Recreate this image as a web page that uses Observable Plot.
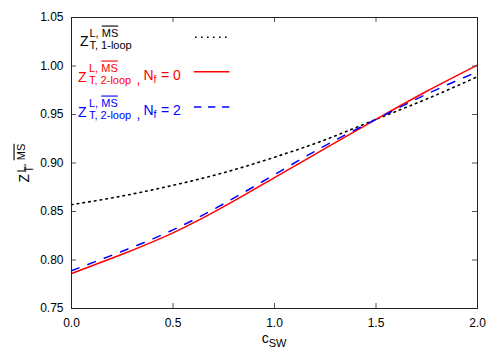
<!DOCTYPE html>
<html><head><meta charset="utf-8">
<script src="https://cdn.jsdelivr.net/npm/d3@7"></script>
<script src="https://cdn.jsdelivr.net/npm/@observablehq/plot@0.6"></script>
<style>
body{margin:0;background:#fff}
svg{font-family:"Liberation Sans",Arial,Helvetica,sans-serif}
</style>
</head><body><div id="chart"></div>
<script>
const cSW = [0, 0.25, 0.5, 0.75, 1.0, 1.25, 1.5, 1.75, 2.0];
const oneLoop    = [0.857, 0.866, 0.877, 0.890, 0.906, 0.924, 0.945, 0.966, 0.989];
const twoLoopNf0 = [0.786, 0.806, 0.828, 0.855, 0.885, 0.915, 0.945, 0.974, 1.001];
const twoLoopNf2 = [0.789, 0.809, 0.831, 0.858, 0.888, 0.918, 0.945, 0.971, 0.994];
const xTicks = [0, 0.5, 1.0, 1.5, 2.0];
const yTicks = [0.75, 0.80, 0.85, 0.90, 0.95, 1.00, 1.05];

const font = '"Liberation Sans",Arial,Helvetica,sans-serif';
const rows = (ys) => cSW.map((c, i) => ({c, z: ys[i]}));

function annotations(index, scales, values, dims) {
  const g = d3.create("svg:g").attr("font-family", font).attr("text-anchor", "start");
  const txt = (x, y, s, size, color) => g.append("text").attr("x", x).attr("y", y)
      .attr("font-size", size).attr("fill", color).text(s);
  const sup = (x, y, color) => {
    const t = g.append("text").attr("x", x).attr("y", y).attr("font-size", 11).attr("fill", color);
    t.append("tspan").text("L, ");
    t.append("tspan").attr("style", "text-decoration: overline").text("MS");
  };
  // entry 1
  txt(80, 45.5, "Z", 14, "black");
  sup(89.5, 36.5, "black");
  txt(89.5, 49, "T, 1-loop", 11, "black");
  // entries 2 and 3
  [[82, "red", "0"], [117, "blue", "2"]].forEach(([y, col, nf]) => {
    txt(78, y, "Z", 14, col);
    sup(89, y - 10.5, col);
    txt(89, y + 2, "T, 2-loop", 11, col);
    txt(136.5, y + 1.5, ",", 14, col);
    txt(143.5, y - 2.5, "N", 14, col);
    txt(153.5, y + 0.5, "f", 10.5, col);
    txt(161, y - 2.5, "= " + nf, 14, col);
  });
  // legend samples
  g.append("line").attr("x1", 195).attr("x2", 229).attr("y1", 37.3).attr("y2", 37.3)
    .attr("stroke", "black").attr("stroke-width", 1.6).attr("stroke-dasharray", "1.6 4.4");
  g.append("line").attr("x1", 194).attr("x2", 229.5).attr("y1", 71.7).attr("y2", 71.7)
    .attr("stroke", "red").attr("stroke-width", 1.5);
  g.append("line").attr("x1", 194).attr("x2", 229.5).attr("y1", 107).attr("y2", 107)
    .attr("stroke", "blue").attr("stroke-width", 1.5).attr("stroke-dasharray", "7.3 6.7");
  // y axis label (rotated)
  g.append("text").attr("transform", "translate(29,182.5) rotate(-90)").attr("fill", "black")
    .attr("font-size", 14).text("Z");
  const ylsup = g.append("text").attr("transform", "translate(24.5,172.5) rotate(-90)").attr("fill", "black").attr("font-size", 11);
  ylsup.append("tspan").text("L, ");
  ylsup.append("tspan").attr("style", "text-decoration: overline").text("MS");
  g.append("text").attr("transform", "translate(32.5,172.5) rotate(-90)").attr("fill", "black").attr("font-size", 11).text("T");
  // x axis label
  const xl = g.append("text").attr("x", 274).attr("y", 343).attr("text-anchor", "middle").attr("fill", "black");
  xl.append("tspan").attr("font-size", 14).text("c");
  xl.append("tspan").attr("font-size", 11).attr("dy", 4).text("SW");
  return g.node();
}

const plot = Plot.plot({
  width: 500, height: 350,
  marginLeft: 71, marginRight: 23, marginTop: 17, marginBottom: 42,
  style: {fontFamily: font, fontSize: "12px", color: "black", background: "white"},
  x: {domain: [0, 2]},
  y: {domain: [0.75, 1.05]},
  marks: [
    Plot.line(rows(oneLoop), {x: "c", y: "z", curve: "natural", stroke: "black", strokeWidth: 1.6, strokeDasharray: "1.6 4.2"}),
    Plot.line(rows(twoLoopNf0), {x: "c", y: "z", curve: "natural", stroke: "red", strokeWidth: 1.5}),
    Plot.line(rows(twoLoopNf2), {x: "c", y: "z", curve: "natural", stroke: "blue", strokeWidth: 1.5, strokeDasharray: "8 9.5"}),
    Plot.tickX(xTicks, {x: d => d, insetTop: 286, stroke: "#555"}),
    Plot.tickX(xTicks, {x: d => d, insetBottom: 286, stroke: "#555"}),
    Plot.tickY(yTicks, {y: d => d, insetRight: 401, stroke: "#555"}),
    Plot.tickY(yTicks, {y: d => d, insetLeft: 401, stroke: "#555"}),
    Plot.frame({stroke: "#222"}),
    Plot.axisX(xTicks, {tickSize: 0, tickPadding: 10, tickFormat: d3.format(".1f"), label: null, fill: "black"}),
    Plot.axisY(yTicks, {tickSize: 0, tickPadding: 8, tickFormat: d3.format(".2f"), label: null, fill: "black"}),
    annotations
  ]
});
document.getElementById("chart").appendChild(plot);
</script>
</body></html>
